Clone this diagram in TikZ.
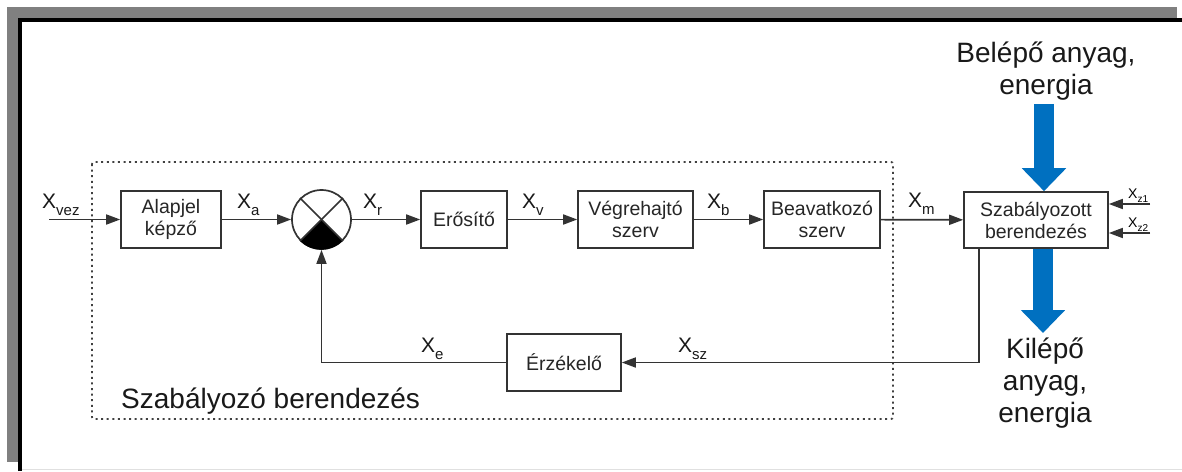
\documentclass[tikz,border=0pt]{standalone}
\usepackage{fontspec}
\setmainfont{Liberation Sans}
\usetikzlibrary{arrows.meta}
\definecolor{kek}{HTML}{0070C0}
% X jel alsó indexszel
\newcommand{\jel}[1]{X\raisebox{-7pt}{\fontsize{15}{15}\selectfont #1}}
\newcommand{\zjel}[1]{X\raisebox{-4pt}{\fontsize{10}{10}\selectfont #1}}

\begin{document}
\begin{tikzpicture}[x=1pt,y=-1pt,
  doboz/.style={draw=black!80,line width=1.6,fill=white,align=center,inner sep=0,minimum height=57,font=\fontsize{19.5}{22}\selectfont,text=black!85},
  jelzes/.style={inner sep=0,anchor=base west,font=\fontsize{21}{21}\selectfont,text=black!90},
  vonal/.style={draw=black!80,line width=1.7},
  nyil/.style={vonal,-{Triangle[length=14pt,width=10pt]}},
  nagy/.style={inner sep=0,align=center,font=\fontsize{28}{32}\selectfont,text=black!90},
  anyag/.style={draw=kek,line width=20,-{Triangle[length=23pt,width=43pt]}}]
\useasboundingbox (0,0) rectangle (1182,471);
% keret
\fill[black!50] (7,7) rectangle (1177,462);
\fill[white] (20,20) rectangle (1182,471);
\draw[line width=4] (20,471) -- (20,20) -- (1182,20);
\draw[black!12,line width=1.5] (22,469.5) -- (1182,469.5);

% szabályozó berendezés határa
\draw[black!75,line width=1.8,dash pattern=on 2pt off 3.6pt,rounded corners=2] (92,162) rectangle (893,419);
\node[inner sep=0,anchor=base west,font=\fontsize{28}{28}\selectfont,text=black!90] (szabalyozo) at (121,408) {Szabályozó berendezés};

% blokkok
\node[doboz,minimum width=100] (alapjel) at (171,219.5) {Alapjel\\képző};
\node[vonal,circle,minimum size=59,inner sep=0,fill=white] (osszegzo) at (321.5,219.5) {};
\node[doboz,minimum width=86] (erosito) at (464,219.5) {Erősítő};
\node[doboz,minimum width=115] (vegrehajto) at (635.5,219.5) {Végrehajtó\\szerv};
\node[doboz,minimum width=116] (beavatkozo) at (822,219.5) {Beavatkozó\\szerv};
\node[doboz,minimum width=144,minimum height=56] (szab) at (1036,220) {Szabályozott\\berendezés};
\node[doboz,minimum width=114] (erzekelo) at (564,362.5) {Érzékelő};

% összegző belseje
\fill (osszegzo.center) -- (osszegzo.south west) arc[start angle=225,end angle=315,radius=30pt] -- cycle;
\draw[vonal] (osszegzo.north west) -- (osszegzo.south east);
\draw[vonal] (osszegzo.north east) -- (osszegzo.south west);

% jelutak
\coordinate (be) at (49,219.5);
\draw[nyil] (be) -- (alapjel);
\draw[nyil] (alapjel) -- (osszegzo);
\draw[nyil] (osszegzo) -- (erosito);
\draw[nyil] (erosito) -- (vegrehajto);
\draw[nyil] (vegrehajto) -- (beavatkozo);
\draw[nyil] (beavatkozo) -- (szab);
\draw[nyil] ([xshift=-57]szab.south) |- (erzekelo.east);
\draw[nyil] (erzekelo.west) -| (osszegzo.south);

% zavaró jelek
\coordinate (z1) at (1150,204);
\coordinate (z2) at (1150,233);
\draw[nyil] (z1) -- (z1 -| szab.east);
\draw[nyil] (z2) -- (z2 -| szab.east);
\node[inner sep=0,anchor=base west,font=\fontsize{14}{14}\selectfont] at (1128,198) {\zjel{z1}};
\node[inner sep=0,anchor=base west,font=\fontsize{14}{14}\selectfont] at (1128,227) {\zjel{z2}};

% jelek nevei
\node[jelzes] at (42,208) {\jel{vez}};
\node[jelzes] at (237,208) {\jel{a}};
\node[jelzes] at (363,208) {\jel{r}};
\node[jelzes] at (522,208) {\jel{v}};
\node[jelzes] at (707,208) {\jel{b}};
\node[jelzes] at (908,207) {\jel{m}};
\node[jelzes] at (421,352) {\jel{e}};
\node[jelzes] at (678,352) {\jel{sz}};

% anyag- és energiaáram
\node[nagy,anchor=north] (belepo) at (1046,42) {Belépő anyag,\\energia};
\node[nagy,anchor=north] (kilepo) at (1045,338) {Kilépő\\anyag,\\energia};
\draw[anyag] ([xshift=-2,yshift=-3]belepo.south) -- ([xshift=-2]belepo.south |- szab.north);
\draw[anyag] ([xshift=-2]kilepo.north |- szab.south) -- ([xshift=-2,yshift=5]kilepo.north);
\end{tikzpicture}
\end{document}
